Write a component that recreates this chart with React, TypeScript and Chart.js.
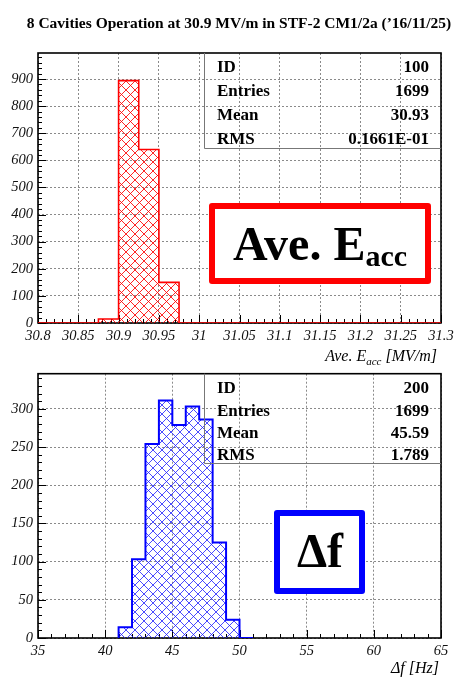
import React, { useEffect, useRef } from 'react';
import { Chart, registerables } from 'chart.js';

Chart.register(...registerables);

const TITLE = '8 Cavities Operation at 30.9 MV/m in STF-2 CM1/2a (\u201916/11/25)';

// ---- Histogram 100 : Ave. Eacc ----
const eaccBinEdges = [30.8, 30.825, 30.85, 30.875, 30.9, 30.925, 30.95, 30.975, 31.0, 31.025, 31.05, 31.075, 31.1, 31.125, 31.15, 31.175, 31.2, 31.225, 31.25, 31.275, 31.3];
const eaccCounts = [0, 0, 0, 15, 894, 640, 150, 0, 0, 0, 0, 0, 0, 0, 0, 0, 0, 0, 0, 0];
const eaccXTicks = [30.8, 30.85, 30.9, 30.95, 31.0, 31.05, 31.1, 31.15, 31.2, 31.25, 31.3];
const eaccXLabels = ['30.8', '30.85', '30.9', '30.95', '31', '31.05', '31.1', '31.15', '31.2', '31.25', '31.3'];
const eaccYTicks = [0, 100, 200, 300, 400, 500, 600, 700, 800, 900];
const eaccYLabels = ['0', '100', '200', '300', '400', '500', '600', '700', '800', '900'];
const eaccStatNames = ['ID', 'Entries', 'Mean', 'RMS'];
const eaccStatValues = ['100', '1699', '30.93', '0.1661E-01'];

// ---- Histogram 200 : delta f ----
const dfBinEdges = [41, 42, 43, 44, 45, 46, 47, 48, 49, 50, 51];
const dfCounts = [14, 103, 254, 311, 279, 303, 286, 125, 24, 0];
const dfXTicks = [35, 40, 45, 50, 55, 60, 65];
const dfXLabels = ['35', '40', '45', '50', '55', '60', '65'];
const dfYTicks = [0, 50, 100, 150, 200, 250, 300];
const dfYLabels = ['0', '50', '100', '150', '200', '250', '300'];
const dfStatNames = ['ID', 'Entries', 'Mean', 'RMS'];
const dfStatValues = ['200', '1699', '45.59', '1.789'];

const SERIF = "'Liberation Serif', 'DejaVu Serif', serif";

function makeHatch(color: string): CanvasPattern | string {
  const c = document.createElement('canvas');
  const s = 9;
  c.width = s;
  c.height = s;
  const g = c.getContext('2d');
  if (!g) return color;
  g.strokeStyle = color;
  g.lineWidth = 1;
  g.beginPath();
  for (const k of [-s, 0, s]) {
    g.moveTo(k, 0);
    g.lineTo(k + s, s);
    g.moveTo(k + s, 0);
    g.lineTo(k, s);
  }
  g.stroke();
  const p = g.createPattern(c, 'repeat');
  return p || color;
}

type HistSpec = {
  width: number;
  height: number;
  padTop: number;
  plotBottom: number;
  edges: number[];
  counts: number[];
  xMin: number;
  xMax: number;
  yMax: number;
  xTicks: number[];
  xLabels: string[];
  yTicks: number[];
  yLabels: string[];
  lineColor: string;
  hatchColor: string;
  lineWidth: number;
  statNames: string[];
  statValues: string[];
  statBoxLeft: number;
  statBoxBottom: number;
  statShift: number;
  drawExtra: (ctx: CanvasRenderingContext2D, chart: any) => void;
};

function buildConfig(spec: HistSpec): any {
  const points: { x: number; y: number }[] = [{ x: spec.edges[0], y: 0 }];
  spec.edges.forEach((e, i) => {
    points.push({ x: e, y: i > 0 ? spec.counts[i - 1] : 0 });
    if (i < spec.counts.length) points.push({ x: e, y: spec.counts[i] });
  });

  const xStep = spec.xTicks[1] - spec.xTicks[0];
  const yStep = spec.yTicks[1] - spec.yTicks[0];

  const decor = {
    id: 'decor',
    beforeDatasetsDraw(chart: any) {
      const { ctx, chartArea: a, scales } = chart;
      const xs = scales.x;
      const ys = scales.y;
      ctx.save();
      ctx.strokeStyle = '#000';
      ctx.lineWidth = 1;
      ctx.beginPath();
      const nx = Math.round((spec.xMax - spec.xMin) / (xStep / 5));
      for (let i = 0; i <= nx; i++) {
        const v = spec.xMin + (i * xStep) / 5;
        const px = Math.round(xs.getPixelForValue(v)) + 0.5;
        const len = i % 5 === 0 ? 8 : 4;
        ctx.moveTo(px, a.bottom);
        ctx.lineTo(px, a.bottom - len);
      }
      const ny = Math.floor(spec.yMax / (yStep / 5));
      for (let i = 0; i <= ny; i++) {
        const v = (i * yStep) / 5;
        const py = Math.round(ys.getPixelForValue(v)) + 0.5;
        const len = i % 5 === 0 ? 8 : 4;
        ctx.moveTo(a.left, py);
        ctx.lineTo(a.left + len, py);
      }
      ctx.stroke();
      ctx.lineWidth = 1.6;
      ctx.strokeRect(a.left, a.top, a.right - a.left, a.bottom - a.top);
      ctx.restore();
    },
    afterDraw(chart: any) {
      const { ctx, chartArea: a } = chart;
      ctx.save();
      ctx.strokeStyle = '#777';
      ctx.lineWidth = 1;
      ctx.beginPath();
      ctx.moveTo(spec.statBoxLeft + 0.5, a.top);
      ctx.lineTo(spec.statBoxLeft + 0.5, spec.statBoxBottom + 0.5);
      ctx.lineTo(a.right, spec.statBoxBottom + 0.5);
      ctx.stroke();
      ctx.fillStyle = '#000';
      ctx.font = `bold 17px ${SERIF}`;
      ctx.textBaseline = 'middle';
      const rowH = (spec.statBoxBottom - a.top) / spec.statNames.length;
      spec.statNames.forEach((n, i) => {
        const y = a.top + rowH * (i + 0.5) + spec.statShift;
        ctx.textAlign = 'left';
        ctx.fillText(n, spec.statBoxLeft + 13, y);
        ctx.textAlign = 'right';
        ctx.fillText(spec.statValues[i], a.right - 12, y);
      });
      ctx.restore();
      ctx.save();
      spec.drawExtra(ctx, chart);
      ctx.restore();
    },
  };

  return {
    type: 'line',
    data: {
      datasets: [
        {
          data: points,
          borderColor: spec.lineColor,
          borderWidth: spec.lineWidth,
          backgroundColor: makeHatch(spec.hatchColor),
          fill: 'origin',
          pointRadius: 0,
          tension: 0,
        },
      ],
    },
    options: {
      responsive: false,
      animation: false,
      devicePixelRatio: 1,
      layout: { padding: { top: spec.padTop, right: 20, left: 0, bottom: 0 } },
      plugins: { legend: { display: false }, title: { display: false }, tooltip: { enabled: false } },
      events: [],
      scales: {
        x: {
          type: 'linear',
          min: spec.xMin,
          max: spec.xMax,
          afterBuildTicks: (s: any) => {
            s.ticks = spec.xTicks.map((v) => ({ value: v }));
          },
          afterFit: (s: any) => {
            s.height = spec.height - spec.plotBottom;
          },
          ticks: {
            autoSkip: false,
            maxRotation: 0,
            padding: 4,
            color: '#111',
            font: { family: SERIF, size: 14.5, style: 'italic' },
            callback: (v: number) => {
              const i = spec.xTicks.indexOf(v);
              return i >= 0 ? spec.xLabels[i] : '';
            },
          },
          grid: { color: '#8a8a8a', lineWidth: 1, drawTicks: false },
          border: { display: false, dash: [2, 2] },
        },
        y: {
          type: 'linear',
          min: 0,
          max: spec.yMax,
          afterBuildTicks: (s: any) => {
            s.ticks = spec.yTicks.map((v) => ({ value: v }));
          },
          afterFit: (s: any) => {
            s.width = 38;
          },
          ticks: {
            autoSkip: false,
            padding: 5,
            color: '#111',
            font: { family: SERIF, size: 14.5, style: 'italic' },
            callback: (v: number) => {
              const i = spec.yTicks.indexOf(v);
              return i >= 0 ? spec.yLabels[i] : '';
            },
          },
          grid: { color: '#8a8a8a', lineWidth: 1, drawTicks: false },
          border: { display: false, dash: [2, 2] },
        },
      },
    },
    plugins: [decor],
  };
}

function labelBox(ctx: CanvasRenderingContext2D, x: number, y: number, w: number, h: number, color: string) {
  ctx.fillStyle = '#fff';
  ctx.fillRect(x, y, w, h);
  ctx.strokeStyle = color;
  ctx.lineWidth = 6;
  ctx.lineJoin = 'round';
  ctx.beginPath();
  ctx.rect(x + 3, y + 3, w - 6, h - 6);
  ctx.stroke();
}

export default function App() {
  const ref1 = useRef<HTMLCanvasElement>(null);
  const ref2 = useRef<HTMLCanvasElement>(null);

  useEffect(() => {
    const spec1: HistSpec = {
      width: 461,
      height: 368,
      padTop: 53,
      plotBottom: 323,
      edges: eaccBinEdges,
      counts: eaccCounts,
      xMin: 30.8,
      xMax: 31.3,
      yMax: 996,
      xTicks: eaccXTicks,
      xLabels: eaccXLabels,
      yTicks: eaccYTicks,
      yLabels: eaccYLabels,
      lineColor: '#ff0000',
      hatchColor: 'rgba(255,0,0,0.85)',
      lineWidth: 1.6,
      statNames: eaccStatNames,
      statValues: eaccStatValues,
      statBoxLeft: 204,
      statBoxBottom: 148,
      statShift: 3,
      drawExtra: (ctx) => {
        ctx.fillStyle = '#000';
        ctx.font = `bold 15.5px ${SERIF}`;
        ctx.textAlign = 'center';
        ctx.textBaseline = 'middle';
        ctx.fillText(TITLE, 239, 24);
        ctx.font = `italic 16px ${SERIF}`;
        ctx.textBaseline = 'alphabetic';
        ctx.textAlign = 'left';
        const p1 = 'Ave. E';
        const p3 = ' [MV/m]';
        const w1 = ctx.measureText(p1).width;
        const w3 = ctx.measureText(p3).width;
        ctx.font = `italic 11px ${SERIF}`;
        const w2 = ctx.measureText('acc').width;
        let x = 437 - (w1 + w2 + w3);
        const base = 361;
        ctx.font = `italic 16px ${SERIF}`;
        ctx.fillText(p1, x, base);
        x += w1;
        ctx.font = `italic 11px ${SERIF}`;
        ctx.fillText('acc', x, base + 4);
        x += w2;
        ctx.font = `italic 16px ${SERIF}`;
        ctx.fillText(p3, x, base);
        labelBox(ctx, 209, 203, 222, 81, '#ff0000');
        ctx.fillStyle = '#000';
        ctx.font = `bold 48px ${SERIF}`;
        ctx.textAlign = 'left';
        const wt = ctx.measureText('Ave. E').width;
        ctx.font = `bold 30px ${SERIF}`;
        const ws = ctx.measureText('acc').width;
        const tx = 320 - (wt + ws) / 2;
        ctx.font = `bold 48px ${SERIF}`;
        ctx.fillText('Ave. E', tx, 260);
        ctx.font = `bold 30px ${SERIF}`;
        ctx.fillText('acc', tx + wt, 266);
      },
    };
    const spec2: HistSpec = {
      width: 461,
      height: 319,
      padTop: 9,
      plotBottom: 278,
      edges: dfBinEdges,
      counts: dfCounts,
      xMin: 35,
      xMax: 65,
      yMax: 346,
      xTicks: dfXTicks,
      xLabels: dfXLabels,
      yTicks: dfYTicks,
      yLabels: dfYLabels,
      lineColor: '#0000ff',
      hatchColor: 'rgba(30,30,255,0.8)',
      lineWidth: 2,
      statNames: dfStatNames,
      statValues: dfStatValues,
      statBoxLeft: 204,
      statBoxBottom: 103,
      statShift: 4,
      drawExtra: (ctx) => {
        ctx.fillStyle = '#000';
        ctx.font = `italic 16px ${SERIF}`;
        ctx.textAlign = 'right';
        ctx.textBaseline = 'alphabetic';
        ctx.fillText('\u0394f [Hz]', 439, 313);
        labelBox(ctx, 274, 150, 91, 84, '#0000ff');
        ctx.fillStyle = '#000';
        ctx.font = `bold 48px ${SERIF}`;
        ctx.textAlign = 'center';
        ctx.fillText('\u0394f', 320, 207);
      },
    };
    const c1 = new Chart(ref1.current as HTMLCanvasElement, buildConfig(spec1));
    const c2 = new Chart(ref2.current as HTMLCanvasElement, buildConfig(spec2));
    return () => {
      c1.destroy();
      c2.destroy();
    };
  }, []);

  return (
    <div style={{ position: 'absolute', left: 0, top: 0, width: 461, height: 679, background: '#fff' }}>
      <canvas ref={ref1} width={461} height={368} style={{ position: 'absolute', left: 0, top: 0, width: 461, height: 368 }} />
      <canvas ref={ref2} width={461} height={319} style={{ position: 'absolute', left: 0, top: 360, width: 461, height: 319 }} />
    </div>
  );
}
